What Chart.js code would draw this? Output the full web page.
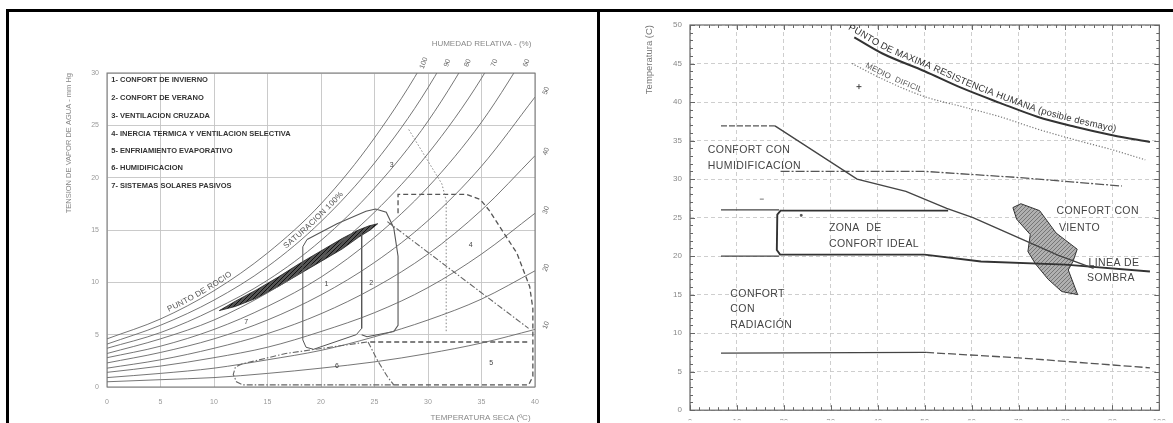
<!DOCTYPE html>
<html>
<head>
<meta charset="utf-8">
<script src="https://cdn.jsdelivr.net/npm/chart.js"></script>
<style>
  html, body { margin: 0; padding: 0; background: #fff; }
  #wrap { position: relative; width: 1173px; height: 423px; overflow: hidden; }
  canvas { position: absolute; top: 0; }
  .b { position: absolute; background: #000; }
</style>
</head>
<body>
<div id="wrap">
  <canvas id="psy" width="597" height="423" style="left:0"></canvas>
  <canvas id="bio" width="573" height="423" style="left:600px"></canvas>
  <div class="b" style="left:6px;top:9px;width:1167px;height:3px"></div>
  <div class="b" style="left:6px;top:9px;width:3px;height:414px"></div>
  <div class="b" style="left:597px;top:9px;width:3px;height:414px"></div>
</div>
<script>
// ---------- psychrometric chart (left) ----------
const psyT = [0, 5, 10, 15, 20, 25, 30, 35, 40];
const hr100 = [4.6, 6.5, 9.2, 12.8, 17.5, 23.8, 31.8, 42.2, 55.3];
const hr90 = [4.1, 5.9, 8.3, 11.5, 15.8, 21.4, 28.6, 38.0, 49.8];
const hr80 = [3.7, 5.2, 7.4, 10.2, 14.0, 19.0, 25.4, 33.8, 44.2];
const hr70 = [3.2, 4.6, 6.4, 9.0, 12.3, 16.7, 22.3, 29.5, 38.7];
const hr60 = [2.8, 3.9, 5.5, 7.7, 10.5, 14.3, 19.1, 25.3, 33.2];
const hr50 = [2.3, 3.3, 4.6, 6.4, 8.8, 11.9, 15.9, 21.1, 27.7];
const hr40 = [1.8, 2.6, 3.7, 5.1, 7.0, 9.5, 12.7, 16.9, 22.1];
const hr30 = [1.4, 2.0, 2.8, 3.8, 5.3, 7.1, 9.5, 12.7, 16.6];
const hr20 = [0.9, 1.3, 1.8, 2.6, 3.5, 4.8, 6.4, 8.4, 11.1];
const hr10 = [0.5, 0.7, 0.9, 1.3, 1.8, 2.4, 3.2, 4.2, 5.5];

const rhTop = ["100", "90", "80", "70", "60"];
const rhTopT = [29.6, 31.8, 33.7, 36.2, 39.2];
const rhRight = ["50", "40", "30", "20", "10"];
const rhRightE = [28.3, 22.5, 16.9, 11.4, 5.9];

const leyenda = [
  "1- CONFORT DE INVIERNO",
  "2- CONFORT DE VERANO",
  "3- VENTILACION CRUZADA",
  "4- INERCIA TERMICA Y VENTILACION SELECTIVA",
  "5- ENFRIAMIENTO EVAPORATIVO",
  "6- HUMIDIFICACION",
  "7- SISTEMAS SOLARES PASIVOS"
];
const leyendaE = [29.35, 27.6, 25.9, 24.2, 22.6, 20.9, 19.2];

const zonaNum = ["1", "2", "3", "4", "5", "6", "7"];
const zonaNumT = [20.5, 24.7, 26.6, 34.0, 35.9, 21.5, 13.0];
const zonaNumE = [9.8, 9.9, 21.2, 13.6, 2.3, 2.0, 6.2];

const zona1 = [[23.8,14.9],[23.8,5.6],[23.3,5.0],[19.3,3.6],[18.6,3.8],[18.3,4.5],[18.3,13.4],[18.7,14.1]];
const zona2 = [[18.7,14.1],[21.5,15.6],[24.2,16.8],[25.1,17.0],[26.1,16.7],[26.8,15.2],[27.2,12.5],[27.2,5.9],[26.8,5.3],[24.3,4.8],[23.8,5.0]];
const zona3 = [[28.2,24.6],[31.3,19.4],[31.7,17.8],[31.7,5.2]];
const zona4 = [[27.2,16.6],[27.2,18.4],[33.6,18.4],[34.9,17.9],[35.7,16.9],[38.3,12.8],[39.5,9.6],[39.8,7.5],[39.8,1.0],[39.4,0.2],[26.8,0.2]];
const zona4diag = [[26.2,15.8],[39.4,5.6]];
const zona5top = [[24.6,4.3],[39.4,4.3]];
const zona5izq = [[24.4,4.3],[25.3,2.5],[26.2,1.0],[26.8,0.2]];
const zona6 = [[24.3,4.3],[16.7,3.2],[12.6,2.2],[12.0,1.9],[11.8,1.2],[12.1,0.5],[12.7,0.2],[26.8,0.2]];
const clima = [[10.5,7.3],[12,8.2],[14,9.3],[16,10.5],[18,11.8],[20,13.0],[22,14.2],[23.5,15.0],[24.5,15.4],[25.3,15.6],
  [24.6,15.0],[23.5,14.3],[22,13.2],[20,12.0],[18,10.8],[16,9.6],[14,8.5],[12,7.7],[10.5,7.3]];

// ---------- bioclimatic chart (right) ----------
const maxResX = [35, 41, 50, 58, 66, 74, 82, 90, 98];
const maxResY = [48.4, 46.3, 44.0, 41.8, 39.9, 38.1, 36.8, 35.7, 34.8];
const medioX = [34.5, 42, 50, 58, 66, 74, 82, 90, 97];
const medioY = [45.0, 42.7, 40.7, 39.4, 38.1, 36.5, 35.1, 33.8, 32.5];

const humidHoriz = [[6.6,36.9],[18.1,36.9]];
const humidDiag = [[18.1,36.9],[35.6,30],[46,28.4],[54.7,26.2],[60.3,25],[71.4,22],[78.5,20.1],[86,18.4]];
const humid31 = [[19.3,31],[50,31],[70,30.2],[92,29.1]];
const conf26 = [[6.6,26],[19,26]];
const conf20 = [[6.6,20],[19,20]];
const zonaIdeal = [[55,25.9],[19.3,25.9],[18.6,25.4],[18.5,20.8],[19.2,20.2],[50,20.2],[62,19.3],[80,18.9],[98,18.0]];
const radSolida = [[6.6,7.4],[50.3,7.5]];
const radTrazos = [[50.3,7.5],[70,6.8],[98,5.5]];
const viento = [[68.8,26.3],[70.5,26.8],[74.5,25.9],[78,23],[82.5,20.9],[81.6,19.3],[80.6,18.2],[82.6,15],[79.2,15.4],
  [76.3,17],[73.6,19],[72,20.6],[72.5,22.8],[69.6,24.8],[68.8,26.3]];

const textos = ["CONFORT CON", "HUMIDIFICACION", "ZONA  DE", "CONFORT IDEAL", "CONFORT CON", "VIENTO",
  "LINEA DE", "SOMBRA", "CONFORT", "CON", "RADIACIÓN"];
const textosX = [3.8, 3.8, 29.6, 29.6, 78.1, 78.6, 84.9, 84.6, 8.6, 8.6, 8.6];
const textosY = [33.75, 31.7, 23.6, 21.6, 25.8, 23.7, 19.05, 17.1, 15.1, 13.1, 11.1];

Chart.defaults.font.family = "'Liberation Sans', Arial, sans-serif";
Chart.defaults.animation = false;

function pares(pts) { return pts.map(p => ({ x: p[0], y: p[1] })); }
function serie(xs, ys) { return xs.map((x, i) => ({ x: x, y: ys[i] })); }

function linea(data, color, width, dash, extra) {
  return Object.assign({
    data: data, showLine: true, pointRadius: 0, borderColor: color,
    borderWidth: width, borderDash: dash || [], fill: false, tension: 0
  }, extra || {});
}

function rayado(bg, fg) {
  const c = document.createElement("canvas");
  c.width = 4; c.height = 4;
  const g = c.getContext("2d");
  g.fillStyle = bg; g.fillRect(0, 0, 4, 4);
  g.strokeStyle = fg; g.lineWidth = 1;
  g.beginPath(); g.moveTo(0, 4); g.lineTo(4, 0); g.stroke();
  return g.createPattern(c, "repeat");
}

// sample the drawn (bezier) line of a dataset
function trazo(meta) {
  const els = meta.data, out = [];
  for (let i = 0; i < els.length; i++) {
    const a = els[i];
    if (i === 0) { out.push([a.x, a.y]); continue; }
    const p = els[i - 1];
    const c1x = p.cp2x ?? p.x, c1y = p.cp2y ?? p.y, c2x = a.cp1x ?? a.x, c2y = a.cp1y ?? a.y;
    for (let k = 1; k <= 12; k++) {
      const t = k / 12, u = 1 - t;
      out.push([u*u*u*p.x + 3*u*u*t*c1x + 3*u*t*t*c2x + t*t*t*a.x,
                u*u*u*p.y + 3*u*u*t*c1y + 3*u*t*t*c2y + t*t*t*a.y]);
    }
  }
  return out;
}

function textoCurvo(ctx, pts, text, startPx, offset, spacing) {
  const seg = [];
  let total = 0;
  for (let i = 1; i < pts.length; i++) {
    const dx = pts[i][0] - pts[i-1][0], dy = pts[i][1] - pts[i-1][1];
    const l = Math.hypot(dx, dy);
    if (l < 0.01) continue;
    seg.push({ x: pts[i-1][0], y: pts[i-1][1], ux: dx / l, uy: dy / l, s: total });
    total += l;
  }
  const at = s => {
    let g = seg[0];
    if (s >= 0) for (const q of seg) if (s >= q.s) g = q;
    const d = s - g.s;
    return { x: g.x + g.ux * d, y: g.y + g.uy * d, ux: g.ux, uy: g.uy };
  };
  let s = 0;
  if (startPx <= seg[0].x) s = (startPx - seg[0].x) / seg[0].ux;
  else for (const q of seg) if (startPx >= q.x) s = q.s + (startPx - q.x) / q.ux;
  ctx.textAlign = "center";
  ctx.textBaseline = "alphabetic";
  for (const ch of text) {
    const w = ctx.measureText(ch).width;
    const p = at(s + w / 2);
    ctx.save();
    ctx.translate(p.x + p.uy * offset, p.y - p.ux * offset);
    ctx.rotate(Math.atan2(p.uy, p.ux));
    ctx.fillText(ch, 0, 0);
    ctx.restore();
    s += w + (spacing || 0);
  }
}

// ---------- left chart ----------
const rhCurves = [hr100, hr90, hr80, hr70, hr60, hr50, hr40, hr30, hr20, hr10];
const psyDatasets = rhCurves.map(c => linea(serie(psyT, c), "#666", 0.9, [], { cubicInterpolationMode: "monotone" }));
psyDatasets.push(
  linea(pares(zona1), "#555", 1),
  linea(pares(zona2), "#555", 1.1),
  linea(pares(zona3), "#777", 0.9, [1.5, 2]),
  linea(pares(zona4), "#555", 1.3, [5, 3]),
  linea(pares(zona4diag), "#666", 1.1, [6, 2, 1.5, 2]),
  linea(pares(zona5top), "#555", 1.5, [5, 3]),
  linea(pares(zona5izq), "#666", 1.1, [6, 2, 1.5, 2]),
  linea(pares(zona6), "#666", 1.1, [6, 2, 1.5, 2]),
  linea(pares(clima), "#222", 0.8, [], { fill: "shape", backgroundColor: rayado("#555", "#111") })
);

const psyDeco = {
  id: "psyDeco",
  afterDatasetsDraw(chart) {
    const ctx = chart.ctx, a = chart.chartArea, sx = chart.scales.x, sy = chart.scales.y;
    ctx.save();
    ctx.strokeStyle = "#777"; ctx.lineWidth = 1;
    ctx.strokeRect(a.left, a.top, a.right - a.left, a.bottom - a.top);

    ctx.fillStyle = "#333";
    ctx.font = "bold 7.5px 'Liberation Sans', Arial, sans-serif";
    ctx.textAlign = "left"; ctx.textBaseline = "middle";
    leyenda.forEach((t, i) => ctx.fillText(t, sx.getPixelForValue(0.4), sy.getPixelForValue(leyendaE[i])));

    ctx.fillStyle = "#666";
    ctx.font = "7px 'Liberation Sans', Arial, sans-serif";
    ctx.textAlign = "center";
    rhTop.forEach((t, i) => {
      ctx.save();
      ctx.translate(sx.getPixelForValue(rhTopT[i]), a.top - 10);
      ctx.rotate(-1.2); ctx.fillText(t, 0, 0); ctx.restore();
    });
    rhRight.forEach((t, i) => {
      ctx.save();
      ctx.translate(a.right + 11, sy.getPixelForValue(rhRightE[i]));
      ctx.rotate(-1.2); ctx.fillText(t, 0, 0); ctx.restore();
    });

    ctx.fillStyle = "#888";
    ctx.font = "8px 'Liberation Sans', Arial, sans-serif";
    ctx.fillText("HUMEDAD RELATIVA - (%)", sx.getPixelForValue(35.0), a.top - 29);

    ctx.fillStyle = "#444";
    ctx.font = "7px 'Liberation Sans', Arial, sans-serif";
    zonaNum.forEach((t, i) => ctx.fillText(t, sx.getPixelForValue(zonaNumT[i]), sy.getPixelForValue(zonaNumE[i])));

    ctx.fillStyle = "#555";
    ctx.font = "8px 'Liberation Sans', Arial, sans-serif";
    textoCurvo(ctx, trazo(chart.getDatasetMeta(0)), "PUNTO DE ROCIO", sx.getPixelForValue(5.9), 3, 0.3);
    textoCurvo(ctx, trazo(chart.getDatasetMeta(1)), "SATURACION 100%", sx.getPixelForValue(16.9), 3, 0.3);
    ctx.restore();
  }
};

new Chart(document.getElementById("psy"), {
  type: "scatter",
  data: { datasets: psyDatasets },
  options: {
    responsive: false,
    layout: { padding: { left: 62, right: 62, top: 73, bottom: 0 } },
    plugins: { legend: { display: false }, tooltip: { enabled: false } },
    scales: {
      x: {
        type: "linear", min: 0, max: 40,
        ticks: { stepSize: 5, color: "#999", font: { size: 7 }, padding: 11 },
        grid: { color: "#c4c4c4", lineWidth: 0.9, drawTicks: false },
        border: { display: false },
        title: { display: true, text: "TEMPERATURA SECA (ºC)  ", align: "end", color: "#888", font: { size: 8 }, padding: 0 },
        afterFit(s) { s.height = 36; }
      },
      y: {
        type: "linear", min: 0, max: 30,
        ticks: { stepSize: 5, color: "#999", font: { size: 7 }, padding: 8 },
        grid: { color: "#c4c4c4", lineWidth: 0.9, drawTicks: false },
        border: { display: false },
        title: { display: true, text: "TENSION DE VAPOR DE AGUA - mm Hg", align: "end", color: "#888", font: { size: 7.5 }, padding: { top: 2, bottom: 0 } },
        afterFit(s) { s.width = 45; }
      }
    }
  },
  plugins: [psyDeco]
});

// ---------- right chart ----------
const bioDatasets = [
  linea(serie(maxResX, maxResY), "#333", 2, [], { cubicInterpolationMode: "monotone" }),
  linea(serie(medioX, medioY), "#777", 1.2, [1.2, 1.8], { cubicInterpolationMode: "monotone" }),
  linea(pares(humidHoriz), "#555", 1.3, [6, 2]),
  linea(pares(humidDiag), "#444", 1.4),
  linea(pares(humid31), "#555", 1.3, [9, 2, 2, 2]),
  linea(pares(conf26), "#444", 1.1),
  linea(pares(conf20), "#444", 1.1),
  linea(pares(zonaIdeal), "#333", 1.9),
  linea(pares(radSolida), "#444", 1.3),
  linea(pares(radTrazos), "#555", 1.3, [8, 3]),
  linea(pares(viento), "#333", 1, [], { fill: "shape", backgroundColor: rayado("#b0b0b0", "#767676") }),
  { data: [{ x: 36, y: 42 }], pointStyle: "cross", pointRadius: 2.5, borderColor: "#444", borderWidth: 1 },
  { data: [{ x: 15.3, y: 27.4 }], pointStyle: "line", pointRadius: 2, borderColor: "#777", borderWidth: 1 },
  { data: [{ x: 23.7, y: 25.3 }], pointStyle: "rect", pointRadius: 1.2, borderColor: "#555", backgroundColor: "#555" }
];

const bioDeco = {
  id: "bioDeco",
  afterDatasetsDraw(chart) {
    const ctx = chart.ctx, a = chart.chartArea, sx = chart.scales.x, sy = chart.scales.y;
    ctx.save();
    ctx.strokeStyle = "#666"; ctx.lineWidth = 1;
    ctx.beginPath();
    for (let v = 0; v <= 100; v += 2) {
      const x = Math.round(sx.getPixelForValue(v)) + 0.5, l = v % 10 === 0 ? 5 : 3;
      ctx.moveTo(x, a.bottom); ctx.lineTo(x, a.bottom - l);
      ctx.moveTo(x, a.top); ctx.lineTo(x, a.top + l);
    }
    for (let v = 0; v <= 50; v += 1) {
      const y = Math.round(sy.getPixelForValue(v)) + 0.5, l = v % 5 === 0 ? 5 : 3;
      ctx.moveTo(a.left, y); ctx.lineTo(a.left + l, y);
      ctx.moveTo(a.right, y); ctx.lineTo(a.right - l, y);
    }
    ctx.stroke();
    ctx.lineWidth = 1.2;
    ctx.strokeRect(a.left, a.top, a.right - a.left, a.bottom - a.top);

    ctx.fillStyle = "#444";
    ctx.font = "10.5px 'Liberation Sans', Arial, sans-serif";
    ctx.letterSpacing = "0.4px";
    ctx.textAlign = "left"; ctx.textBaseline = "middle";
    textos.forEach((t, i) => ctx.fillText(t, sx.getPixelForValue(textosX[i]), sy.getPixelForValue(textosY[i])));
    ctx.letterSpacing = "0px";

    ctx.save();
    ctx.beginPath(); ctx.rect(a.left, a.top, a.right - a.left, a.bottom - a.top); ctx.clip();
    ctx.fillStyle = "#333";
    ctx.font = "9.5px 'Liberation Sans', Arial, sans-serif";
    textoCurvo(ctx, trazo(chart.getDatasetMeta(0)), "PUNTO DE MAXIMA RESISTENCIA HUMANA (posible desmayo)", sx.getPixelForValue(33.2), 4, 0.2);
    ctx.fillStyle = "#555";
    ctx.font = "8px 'Liberation Sans', Arial, sans-serif";
    textoCurvo(ctx, trazo(chart.getDatasetMeta(1)), "MEDIO  DIFICIL", sx.getPixelForValue(37), 3, 0.3);
    ctx.restore();
    ctx.restore();
  }
};

new Chart(document.getElementById("bio"), {
  type: "scatter",
  data: { datasets: bioDatasets },
  options: {
    responsive: false,
    layout: { padding: { left: 44, right: 13, top: 25, bottom: 0 } },
    plugins: { legend: { display: false }, tooltip: { enabled: false } },
    scales: {
      x: {
        type: "linear", min: 0, max: 100,
        ticks: { stepSize: 10, color: "#888", font: { size: 8 }, padding: 7, autoSkip: false },
        grid: { color: "#c8c8c8", lineWidth: 0.9, drawTicks: false },
        border: { display: false, dash: [4, 3] },
        afterFit(s) { s.height = 10; }
      },
      y: {
        type: "linear", min: 0, max: 50,
        ticks: { stepSize: 5, color: "#888", font: { size: 8 }, padding: 8 },
        grid: { color: "#c8c8c8", lineWidth: 0.9, drawTicks: false },
        border: { display: false, dash: [4, 3] },
        title: { display: true, text: "Temperatura (C)", align: "end", color: "#777", font: { size: 9.5 }, padding: 0 },
        afterFit(s) { s.width = 46; }
      }
    }
  },
  plugins: [bioDeco]
});
</script>
</body>
</html>
